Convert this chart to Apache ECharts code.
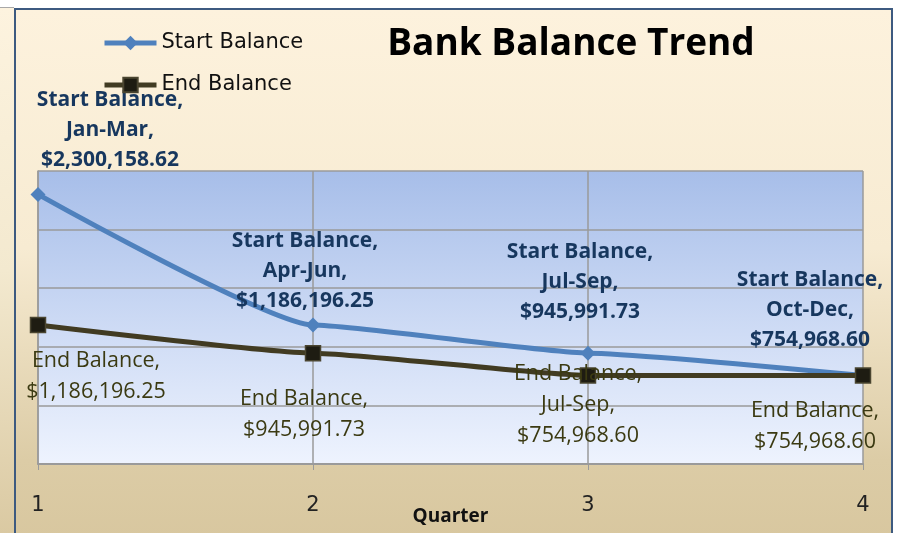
<!DOCTYPE html>
<html>
<head>
<meta charset="utf-8">
<script src="https://cdn.jsdelivr.net/npm/echarts@6/dist/echarts.min.js"></script>
<style>
  html, body { margin: 0; padding: 0; background: #ffffff; overflow: hidden; width: 899px; height: 533px; }
  #strip {
    position: absolute; left: 0; top: 7px; width: 14px; height: 526px;
    border-top: 1px solid #a8a8a8;
    background: linear-gradient(#fdf3df, #f3e9cf 50%, #dac9a2);
  }
  #frame {
    position: absolute; left: 14px; top: 8px; width: 875px; height: 530px;
    border: 2px solid #3d5a80;
    background: linear-gradient(#fdf2dd, #f7ebd2 45%, #dccca6 85%, #d8c79f);
  }
  #chart { position: absolute; left: 0; top: 0; width: 899px; height: 533px; }
</style>
</head>
<body>
<div id="strip"></div>
<div id="frame"></div>
<div id="chart"></div>
<script>
  // data
  const quarters = [1, 2, 3, 4];
  const quarterNames = ['Jan-Mar', 'Apr-Jun', 'Jul-Sep', 'Oct-Dec'];
  const startBalance = [2300158.62, 1186196.25, 945991.73, 754968.60];
  const endBalance = [1186196.25, 945991.73, 754968.60, 754968.60];
  // which End Balance labels also carry the quarter name
  const endShowsQuarter = [false, false, true, false];

  // label placement (pixels from the point, centre of the label block)
  const startLabelOffsets = [[72, -64], [-8, -54], [-8, -71], [-53, -66]];
  const endLabelOffsets = [[58, 51], [-9, 61], [-10, 29], [-48, 51]];

  const money = v => '$' + v.toLocaleString('en-US', { minimumFractionDigits: 2, maximumFractionDigits: 2 });

  const startData = quarters.map((q, i) => ({
    value: [q, startBalance[i]],
    label: { offset: startLabelOffsets[i] }
  }));
  const endData = quarters.map((q, i) => ({
    value: [q, endBalance[i]],
    label: { offset: endLabelOffsets[i] }
  }));

  const chart = echarts.init(document.getElementById('chart'));
  chart.setOption({
    backgroundColor: 'transparent',
    animation: false,
    title: {
      text: 'Bank Balance Trend',
      left: 566, top: 21, textAlign: 'center',
      textStyle: { fontFamily: 'Open Sans', fontWeight: 'bold', fontSize: 37, color: '#000' }
    },
    legend: {
      orient: 'vertical', left: 97, top: 27,
      itemWidth: 52, itemHeight: 18, itemGap: 20,
      lineStyle: { width: 5 },
      textStyle: { fontFamily: 'DejaVu Sans', fontSize: 21, color: '#111', lineHeight: 22 },
      data: ['Start Balance', 'End Balance']
    },
    grid: {
      left: 38, right: 36, top: 171, bottom: 69,
      outerBoundsMode: 'none',
      containLabel: false,
      show: true, borderWidth: 0,
      backgroundColor: new echarts.graphic.LinearGradient(0, 0, 0, 1, [
        { offset: 0, color: '#a7bee9' },
        { offset: 0.5, color: '#cbd9f4' },
        { offset: 1, color: '#eef3fe' }
      ])
    },
    xAxis: {
      type: 'value', min: 1, max: 4, interval: 1,
      name: 'Quarter', nameLocation: 'middle', nameGap: 43, nameMoveOverlap: false,
      nameTextStyle: { fontFamily: 'Open Sans', fontWeight: 'bold', fontSize: 19, color: '#111' },
      axisLine: { show: true, lineStyle: { color: '#9a9a9a', width: 2 } },
      axisTick: { show: true, length: 6, lineStyle: { color: '#9a9a9a' } },
      axisLabel: { margin: 31, fontFamily: 'DejaVu Sans', fontSize: 21, color: '#222' },
      splitLine: { show: true, lineStyle: { color: '#9a9a9a', width: 1.5 } }
    },
    yAxis: {
      type: 'value', min: 0, max: 2500000, interval: 500000,
      axisLine: { show: true, lineStyle: { color: '#9a9a9a', width: 1.5 } },
      axisTick: { show: false },
      axisLabel: { show: false },
      splitLine: { show: true, lineStyle: { color: '#9a9a9a', width: 1.5 } }
    },
    series: [
      {
        name: 'Start Balance', type: 'line', data: startData,
        smooth: 0.15, smoothMonotone: 'x',
        symbol: 'diamond', symbolSize: 15,
        itemStyle: { color: '#4f81bd' },
        lineStyle: { color: '#4f81bd', width: 5 },
        z: 2,
        label: {
          show: true, position: 'inside', align: 'center', verticalAlign: 'middle',
          fontFamily: 'Open Sans', fontWeight: 'bold', fontSize: 21, lineHeight: 30,
          color: '#17375e',
          formatter: p => 'Start Balance,\n' + quarterNames[p.dataIndex] + ',\n' + money(startBalance[p.dataIndex])
        }
      },
      {
        name: 'End Balance', type: 'line', data: endData,
        smooth: 0.15, smoothMonotone: 'x',
        symbol: 'rect', symbolSize: 15,
        itemStyle: { color: '#1e1c12', borderColor: '#4a4530', borderWidth: 1.5 },
        lineStyle: { color: '#413b22', width: 5 },
        z: 3,
        label: {
          show: true, position: 'inside', align: 'center', verticalAlign: 'middle',
          fontFamily: 'Open Sans', fontSize: 21.5, lineHeight: 31,
          color: '#3b3a12',
          formatter: p => 'End Balance,\n' + (endShowsQuarter[p.dataIndex] ? quarterNames[p.dataIndex] + ',\n' : '') + money(endBalance[p.dataIndex])
        }
      }
    ]
  });
</script>
</body>
</html>
